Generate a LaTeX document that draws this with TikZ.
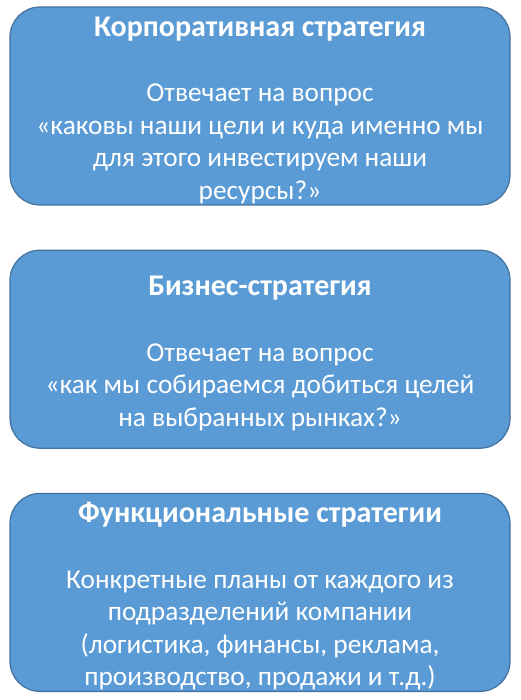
\documentclass[tikz,border=0pt]{standalone}
\usepackage{fontspec}
\setmainfont{Carlito}
\usepackage{xcolor}
\usepackage{tikz}
\usetikzlibrary{positioning}

\definecolor{boxblue}{HTML}{5B9BD5}
\definecolor{boxedge}{HTML}{41719C}
\newcommand{\boxtitle}[1]{{\fontsize{30}{32.5}\selectfont\bfseries\rule{0pt}{28pt}#1}}

\begin{document}
\begin{tikzpicture}[
    node distance=44pt,
    block/.style={rectangle, draw=boxedge, line width=1.2pt, fill=boxblue, text=white, align=center, minimum width=500pt, minimum height=198pt, rounded corners=30pt, inner sep=0pt, font=\fontsize{27.3}{32.5}\selectfont}
]
\useasboundingbox (0pt,0pt) rectangle (520pt,-700pt);

% Levels
\node[block] (corp) at (260pt,-106pt) {\boxtitle{Корпоративная стратегия}\\[33pt]
Отвечает на вопрос\\
«каковы наши цели и куда именно мы\\
для этого инвестируем наши\\
ресурсы?»};
\node[block, below=of corp] (biz) {\boxtitle{Бизнес-стратегия}\\[33pt]
Отвечает на вопрос\\
«как мы собираемся добиться целей\\
на выбранных рынках?»};
\node[block, below=of biz] (func) {\boxtitle{Функциональные стратегии}\\[33pt]
Конкретные планы от каждого из\\
подразделений компании\\
(логистика, финансы, реклама,\\
производство, продажи и т.д.)};

\end{tikzpicture}
\end{document}
